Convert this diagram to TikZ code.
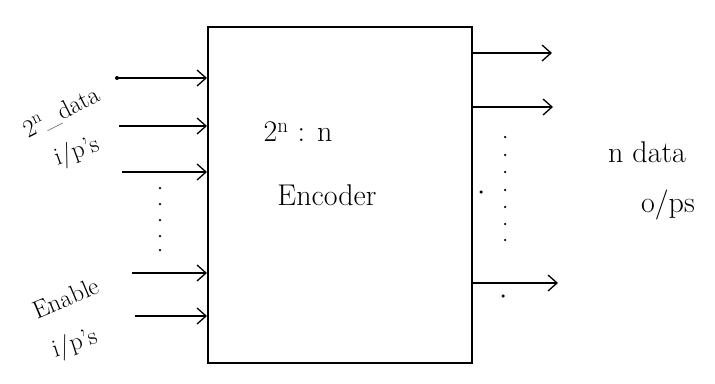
\documentclass[tikz,border=0pt]{standalone}
\usetikzlibrary{arrows.meta}
\begin{document}
\begin{tikzpicture}[x=1pt,y=-1pt,
  wire/.style={line width=1.6pt,-{Straight Barb[length=9pt,width=16pt,line width=1.3pt]}},
  lbl/.style={font=\fontsize{30}{34}\selectfont,inner sep=0pt},
  slbl/.style={font=\fontsize{25}{28}\selectfont,inner sep=0pt},
  dotmark/.style={circle,fill=black,inner sep=0pt,minimum size=3.5pt}]
\useasboundingbox (0,0) rectangle (715,383);
\node[draw,line width=1.6pt,minimum width=264pt,minimum height=336pt,anchor=north west,inner sep=0pt] (box) at (207,26) {};
% inputs
\coordinate (i1) at (117,78);
\coordinate (i2) at (119,126);
\coordinate (i3) at (122,172);
\coordinate (i4) at (132,273);
\coordinate (i5) at (135,316);
\foreach \c in {i1,i2,i3,i4,i5} \draw[wire] (\c) -- (\c -| box.west);
\fill (i1) circle (2pt);
\foreach \y in {188,204,220,236,250} \node[dotmark,minimum size=2.5pt] at (160,\y) {};
% outputs
\coordinate (o1) at (552,53);
\coordinate (o2) at (553,107);
\coordinate (o3) at (558,283);
\foreach \c in {o1,o2,o3} \draw[wire] (\c -| box.east) -- (\c);
\foreach \y in {137,155,172,190,207,224,240} \node[dotmark,minimum size=2.5pt] at (505,\y) {};
\node[dotmark] (d1) at (481,192) {};
\node[dotmark] (d2) at (503,296) {};
% labels
\node[slbl,rotate=27] (l1) at (62,113) {2\textsuperscript{n}\_data};
\node[slbl,rotate=20] (l2) at (77,152) {i/p's};
\node[slbl,rotate=23] (l3) at (66,298) {Enable};
\node[slbl,rotate=18] (l4) at (75,344) {i/p's};
\node[lbl] (c1) at (298,132) {2\textsuperscript{n} : n};
\node[lbl] (c2) at (327,195) {Encoder};
\node[lbl] (r1) at (647,152) {n data};
\node[lbl] (r2) at (668,205) {o/ps};
\end{tikzpicture}
\end{document}
